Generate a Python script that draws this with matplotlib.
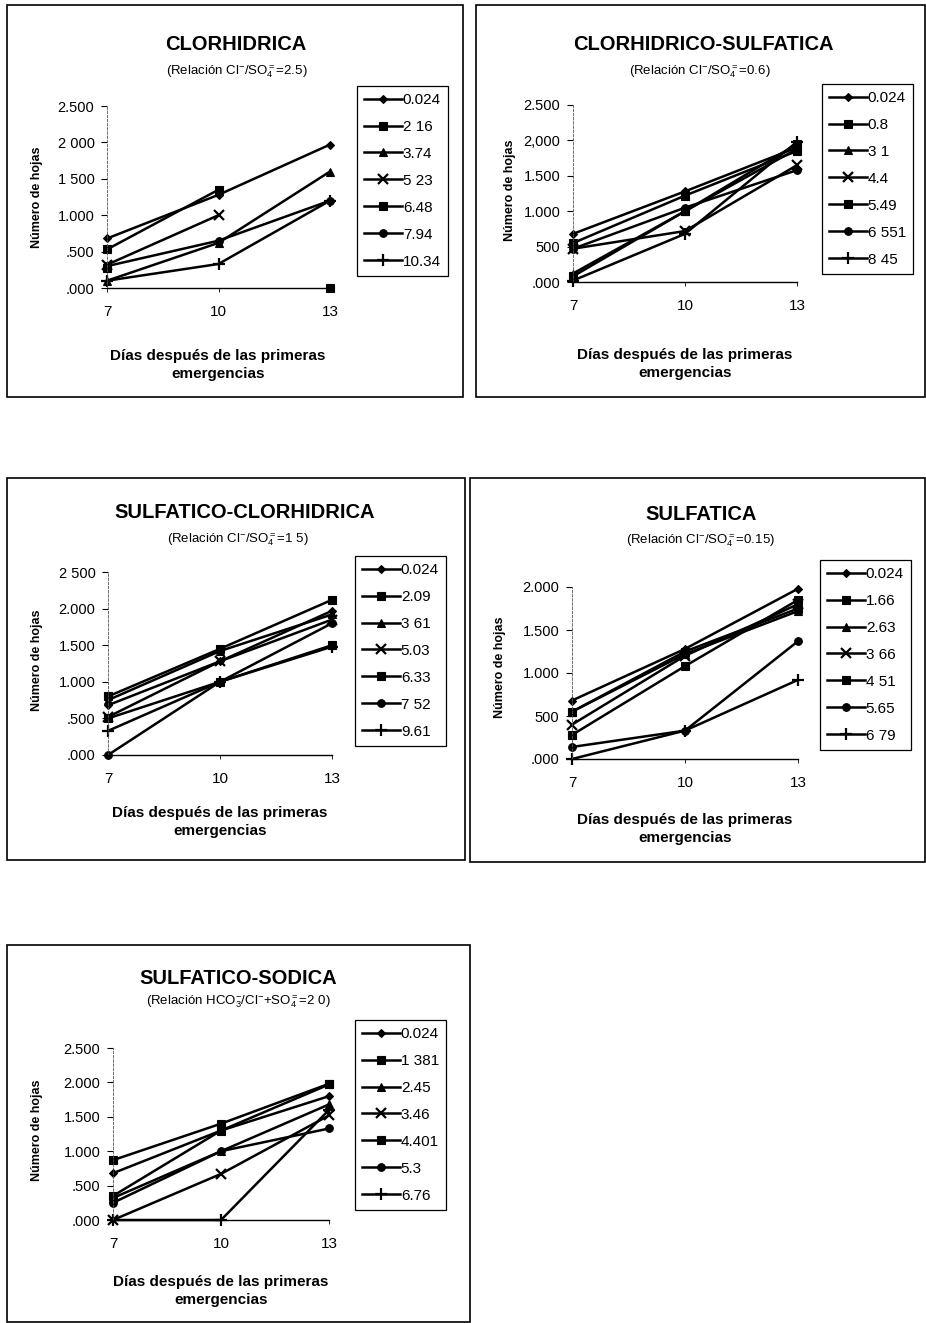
import matplotlib
matplotlib.use("Agg")
import matplotlib.pyplot as plt
from matplotlib.patches import Rectangle
import numpy as np

plt.rcParams['font.family'] = ['Liberation Sans', 'DejaVu Sans']
plt.rcParams['mathtext.fontset'] = 'custom'
plt.rcParams['mathtext.rm'] = 'Liberation Sans'
plt.rcParams['mathtext.it'] = 'Liberation Sans'

# ---------------- data ----------------
days = [7, 10, 13]
xtick_labels = ["7", "10", "13"]

p1_title = "CLORHIDRICA"
p1_sub = r"(Relación Cl$^{-}$/SO$_4^{=}$=2.5)"
p1_labels = ["0.024", "2 16", "3.74", "5 23", "6.48", "7.94", "10.34"]
p1_values = [
    [0.68, 1.28, 1.97],
    [0.53, 1.35, np.nan],
    [0.10, 0.62, 1.60],
    [0.32, 1.00, np.nan],
    [0.28, np.nan, 0.00],
    [0.30, 0.65, 1.20],
    [0.10, 0.33, 1.20],
]
p1_yticks = [0, 0.5, 1.0, 1.5, 2.0, 2.5]
p1_ytick_labels = [".000", ".500", "1.000", "1 500", "2 000", "2.500"]

p2_title = "CLORHIDRICO-SULFATICA"
p2_sub = r"(Relación Cl$^{-}$/SO$_4^{=}$=0.6)"
p2_labels = ["0.024", "0.8", "3 1", "4.4", "5.49", "6 551", "8 45"]
p2_values = [
    [0.68, 1.28, 1.90],
    [0.55, 1.22, 1.85],
    [0.12, 1.00, 1.88],
    [0.47, 0.72, 1.65],
    [0.08, 1.00, 1.95],
    [0.47, 1.05, 1.58],
    [0.02, 0.68, 1.98],
]
p2_yticks = [0, 0.5, 1.0, 1.5, 2.0, 2.5]
p2_ytick_labels = [".000", "500", "1.000", "1.500", "2,000", "2.500"]

p3_title = "SULFATICO-CLORHIDRICA"
p3_sub = r"(Relación Cl$^{-}$/SO$_4^{=}$=1 5)"
p3_labels = ["0.024", "2.09", "3 61", "5.03", "6.33", "7 52", "9.61"]
p3_values = [
    [0.68, 1.28, 1.97],
    [0.80, 1.45, 2.12],
    [0.75, 1.42, 1.92],
    [0.52, 1.28, 1.85],
    [0.50, 1.00, 1.50],
    [0.00, 1.00, 1.80],
    [0.33, 1.00, 1.48],
]
p3_yticks = [0, 0.5, 1.0, 1.5, 2.0, 2.5]
p3_ytick_labels = [".000", ".500", "1.000", "1.500", "2.000", "2 500"]

p4_title = "SULFATICA"
p4_sub = r"(Relación Cl$^{-}$/SO$_4^{=}$=0.15)"
p4_labels = ["0.024", "1.66", "2.63", "3 66", "4 51", "5.65", "6 79"]
p4_values = [
    [0.68, 1.28, 1.98],
    [0.28, 1.08, 1.85],
    [0.55, 1.22, 1.72],
    [0.40, 1.20, 1.80],
    [0.55, 1.25, 1.75],
    [0.14, 0.33, 1.37],
    [0.00, 0.33, 0.92],
]
p4_yticks = [0, 0.5, 1.0, 1.5, 2.0]
p4_ytick_labels = [".000", "500", "1.000", "1.500", "2.000"]

p5_title = "SULFATICO-SODICA"
p5_sub = r"(Relación HCO$_3^{-}$/Cl$^{-}$+SO$_4^{=}$=2 0)"
p5_labels = ["0.024", "1 381", "2.45", "3.46", "4.401", "5.3", "6.76"]
p5_values = [
    [0.68, 1.30, 1.80],
    [0.87, 1.40, 1.98],
    [0.32, 1.00, 1.68],
    [0.00, 0.67, 1.52],
    [0.35, 1.30, 1.97],
    [0.25, 1.00, 1.33],
    [0.00, 0.00, 1.60],
]
p5_yticks = [0, 0.5, 1.0, 1.5, 2.0, 2.5]
p5_ytick_labels = [".000", ".500", "1.000", "1.500", "2.000", "2.500"]

ylabel_text = "Número de hojas"
xlabel_text = "Días después de las primeras\nemergencias"

# ---------------- layout ----------------
W, H = 926, 1323
fig = plt.figure(figsize=(W / 100, H / 100), dpi=100)
fig.patch.set_facecolor("white")

def fx(x):
    return x / W

def fy(y):
    return 1 - y / H

markers = ['D', 's', '^', 'x', 's', 'o', '+']
msizes = [4.5, 5.5, 6, 6.5, 5.5, 5.5, 8]

panels = [
    dict(title=p1_title, sub=p1_sub, labels=p1_labels, values=p1_values,
         yt=p1_yticks, ytl=p1_ytick_labels, ymax=2.5,
         box=(7, 5, 463, 397), ax=(107, 106, 330, 288), leg=(357, 86),
         t=(236, 44), s=(237, 72), yl=(37, 197), xl=(218, 365)),
    dict(title=p2_title, sub=p2_sub, labels=p2_labels, values=p2_values,
         yt=p2_yticks, ytl=p2_ytick_labels, ymax=2.5,
         box=(476, 5, 925, 397), ax=(573, 105, 797, 282), leg=(822, 84),
         t=(703, 45), s=(700, 72), yl=(510, 190), xl=(685, 364)),
    dict(title=p3_title, sub=p3_sub, labels=p3_labels, values=p3_values,
         yt=p3_yticks, ytl=p3_ytick_labels, ymax=2.5,
         box=(7, 478, 465, 860), ax=(108, 572, 332, 755), leg=(355, 556),
         t=(245, 512), s=(238, 540), yl=(37, 660), xl=(220, 822)),
    dict(title=p4_title, sub=p4_sub, labels=p4_labels, values=p4_values,
         yt=p4_yticks, ytl=p4_ytick_labels, ymax=2.0,
         box=(470, 478, 925, 862), ax=(572, 587, 798, 759), leg=(820, 560),
         t=(701, 514), s=(700, 541), yl=(500, 667), xl=(685, 829)),
    dict(title=p5_title, sub=p5_sub, labels=p5_labels, values=p5_values,
         yt=p5_yticks, ytl=p5_ytick_labels, ymax=2.5,
         box=(7, 945, 470, 1322), ax=(113, 1048, 329, 1220), leg=(355, 1020),
         t=(238, 978), s=(238, 1002), yl=(37, 1130), xl=(221, 1291)),
]

for p in panels:
    bx0, by0, bx1, by1 = p['box']
    fig.add_artist(Rectangle((fx(bx0), fy(by1)), (bx1 - bx0) / W, (by1 - by0) / H,
                             transform=fig.transFigure, fill=False,
                             edgecolor='black', linewidth=1.2))
    ax0, ay0, ax1, ay1 = p['ax']
    ax = fig.add_axes([fx(ax0), fy(ay1), (ax1 - ax0) / W, (ay1 - ay0) / H])
    ax.set_facecolor('none')
    handles = []
    for i, (lab, vals) in enumerate(zip(p['labels'], p['values'])):
        h, = ax.plot(days, vals, color='black', linewidth=1.8,
                     marker=markers[i], markersize=msizes[i],
                     markerfacecolor='black', markeredgecolor='black',
                     markeredgewidth=1.6 if markers[i] in ('x', '+') else 0.8,
                     label=lab, clip_on=False)
        handles.append(h)
    ax.set_xlim(7, 13)
    ax.set_ylim(0, p['ymax'])
    ax.set_xticks(days)
    ax.set_xticklabels(xtick_labels, fontsize=11)
    ax.set_yticks(p['yt'])
    ax.set_yticklabels(p['ytl'], fontsize=10.5)
    for side in ('top', 'right'):
        ax.spines[side].set_visible(False)
    ax.spines['left'].set_linestyle((0, (3, 2)))
    ax.spines['left'].set_linewidth(0.6)
    ax.spines['left'].set_color('#555555')
    ax.spines['bottom'].set_linewidth(1.0)
    ax.tick_params(axis='x', direction='out', length=3, pad=9, width=0.6)
    ax.tick_params(axis='y', direction='out', length=4, pad=5, width=0.8)

    leg = fig.legend(handles=handles, loc='upper left',
                     bbox_to_anchor=(fx(p['leg'][0]), fy(p['leg'][1])),
                     bbox_transform=fig.transFigure, fontsize=11,
                     frameon=True, fancybox=False, edgecolor='black',
                     framealpha=1, borderpad=0.45, labelspacing=0.85,
                     handlelength=2.5, handletextpad=0.05, borderaxespad=0,
                     numpoints=1)
    leg.get_frame().set_linewidth(0.9)

    fig.text(fx(p['t'][0]), fy(p['t'][1]), p['title'], ha='center', va='center',
             fontsize=14.5, fontweight='bold')
    fig.text(fx(p['s'][0]), fy(p['s'][1]), p['sub'], ha='center', va='center',
             fontsize=9.5)
    fig.text(fx(p['yl'][0]), fy(p['yl'][1]), ylabel_text, ha='center', va='center',
             rotation=90, fontsize=9, fontweight='bold')
    fig.text(fx(p['xl'][0]), fy(p['xl'][1]), xlabel_text, ha='center', va='center',
             fontsize=11, fontweight='bold', linespacing=1.45)

fig.savefig("out.png", dpi=100, facecolor="white")
